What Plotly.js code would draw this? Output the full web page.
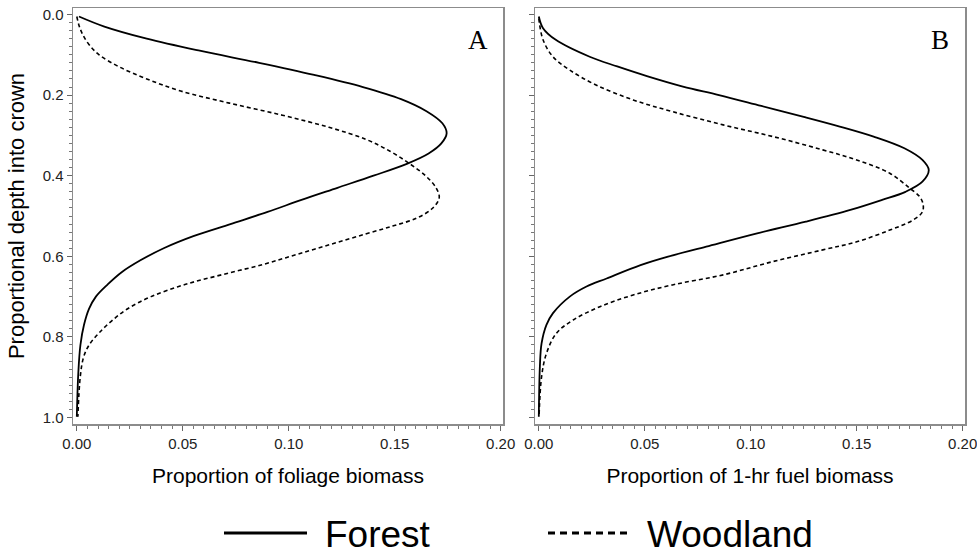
<!DOCTYPE html>
<html>
<head>
<meta charset="utf-8">
<script src="https://cdn.plot.ly/plotly-3.0.1.min.js"></script>
<style>
  html, body { margin: 0; padding: 0; background: #fff; }
  #chart { width: 977px; height: 557px; }
</style>
</head>
<body>
<div id="chart"></div>
<script>
// Vertical distribution of crown biomass (depth 0 = crown top, 1 = crown base)

// Panel A: foliage biomass
const forestFoliageDepth = [0.005, 0.030, 0.060, 0.090, 0.120, 0.150, 0.180, 0.210, 0.240, 0.270, 0.295, 0.320, 0.345, 0.370, 0.400, 0.430, 0.460, 0.490, 0.520, 0.550, 0.580, 0.610, 0.640, 0.670, 0.700, 0.730, 0.770, 0.820, 0.890, 0.998];
const forestFoliage      = [0.001, 0.013, 0.033, 0.058, 0.086, 0.112, 0.135, 0.153, 0.165, 0.1725, 0.1745, 0.172, 0.166, 0.156, 0.140, 0.123, 0.106, 0.090, 0.0725, 0.055, 0.041, 0.030, 0.021, 0.0145, 0.009, 0.0058, 0.0034, 0.0017, 0.0007, 0.0];

const woodlandFoliageDepth = [0.005, 0.030, 0.050, 0.075, 0.100, 0.130, 0.160, 0.190, 0.220, 0.250, 0.280, 0.310, 0.340, 0.370, 0.400, 0.430, 0.455, 0.480, 0.505, 0.525, 0.545, 0.570, 0.595, 0.620, 0.645, 0.670, 0.700, 0.730, 0.760, 0.790, 0.820, 0.850, 0.900, 0.998];
const woodlandFoliage      = [0.0, 0.0012, 0.0028, 0.0058, 0.0105, 0.020, 0.033, 0.049, 0.072, 0.097, 0.119, 0.1365, 0.148, 0.157, 0.1645, 0.1695, 0.171, 0.168, 0.1605, 0.149, 0.136, 0.120, 0.104, 0.088, 0.069, 0.051, 0.035, 0.024, 0.0165, 0.0105, 0.0058, 0.0032, 0.0016, 0.0005];

// Panel B: 1-hr fuel biomass
const forestFuelDepth = [0.005, 0.034, 0.063, 0.105, 0.129, 0.153, 0.179, 0.200, 0.227, 0.254, 0.278, 0.303, 0.332, 0.361, 0.386, 0.415, 0.440, 0.460, 0.485, 0.514, 0.543, 0.576, 0.601, 0.622, 0.655, 0.675, 0.700, 0.741, 0.770, 0.816, 0.874, 0.998];
const forestFuel      = [0.0, 0.002, 0.008, 0.024, 0.037, 0.051, 0.068, 0.085, 0.105, 0.125, 0.142, 0.158, 0.1725, 0.181, 0.184, 0.181, 0.173, 0.162, 0.147, 0.126, 0.103, 0.079, 0.061, 0.048, 0.032, 0.0225, 0.0146, 0.0067, 0.0036, 0.0013, 0.0005, 0.0];

const woodlandFuelDepth = [0.010, 0.063, 0.105, 0.138, 0.175, 0.212, 0.241, 0.274, 0.303, 0.336, 0.361, 0.394, 0.431, 0.452, 0.470, 0.490, 0.510, 0.535, 0.564, 0.584, 0.613, 0.646, 0.671, 0.696, 0.725, 0.758, 0.791, 0.841, 0.899, 0.998];
const woodlandFuel      = [0.0, 0.002, 0.0067, 0.0146, 0.027, 0.0445, 0.063, 0.087, 0.1105, 0.134, 0.150, 0.1656, 0.175, 0.1797, 0.1813, 0.181, 0.1766, 0.1656, 0.150, 0.134, 0.1105, 0.087, 0.063, 0.0445, 0.0288, 0.0162, 0.0083, 0.0036, 0.0013, 0.0001];

const xTicks = [0.00, 0.05, 0.10, 0.15, 0.20];
const yTicks = [0.0, 0.2, 0.4, 0.6, 0.8, 1.0];
const xTitleA = 'Proportion of foliage biomass';
const xTitleB = 'Proportion of 1-hr fuel biomass';
const yTitle = 'Proportional depth into crown';
const panelLabels = ['A', 'B'];
const seriesNames = ['Forest', 'Woodland'];

const FONT = 'Arial, "Liberation Sans", Helvetica, sans-serif';
const solid = { color: '#000', width: 1.8, shape: 'spline', smoothing: 1.0 };
const dashed = { color: '#000', width: 1.6, dash: '4px,3px', shape: 'spline', smoothing: 1.0 };

const traces = [
  { x: forestFoliage, y: forestFoliageDepth, xaxis: 'x', yaxis: 'y', mode: 'lines', line: solid, name: seriesNames[0] },
  { x: woodlandFoliage, y: woodlandFoliageDepth, xaxis: 'x', yaxis: 'y', mode: 'lines', line: dashed, name: seriesNames[1] },
  { x: forestFuel, y: forestFuelDepth, xaxis: 'x2', yaxis: 'y2', mode: 'lines', line: solid, name: seriesNames[0] },
  { x: woodlandFuel, y: woodlandFuelDepth, xaxis: 'x2', yaxis: 'y2', mode: 'lines', line: dashed, name: seriesNames[1] }
];

const W = 977, H = 557;
const M = { l: 73, r: 12, t: 8, b: 133 };
const plotW = W - M.l - M.r, plotH = H - M.t - M.b;
const px = v => (v - M.l) / plotW;          // pixel x -> paper x
const py = v => (H - M.b - v) / plotH;      // pixel y -> paper y

function xAxis(domain, anchor, title) {
  return {
    domain: domain, anchor: anchor,
    range: [-0.0018, 0.2011],
    tickvals: xTicks, tickformat: '.2f',
    ticklabeloverflow: 'allow',
    ticks: 'outside', ticklen: 5, tickwidth: 1, tickcolor: '#666',
    minor: { dtick: 0.005, ticks: 'outside', ticklen: 3, tickwidth: 1, tickcolor: '#777', showgrid: false },
    showline: true, mirror: true, linecolor: '#8c8c8c', linewidth: 1.5,
    showgrid: false, zeroline: false,
    tickfont: { family: FONT, size: 15, color: '#222' },
    title: { text: title, font: { family: FONT, size: 21, color: '#000' }, standoff: 18 }
  };
}
function yAxis(anchor, labels, title) {
  return {
    anchor: anchor,
    range: [1.016, -0.016],
    tickvals: yTicks, tickformat: '.1f', showticklabels: labels,
    ticks: 'outside', ticklen: 5, tickwidth: 1, tickcolor: '#666',
    minor: { dtick: 0.02, ticks: 'outside', ticklen: 3, tickwidth: 1, tickcolor: '#777', showgrid: false },
    showline: true, mirror: true, linecolor: '#8c8c8c', linewidth: 1.5,
    showgrid: false, zeroline: false,
    tickfont: { family: FONT, size: 15, color: '#222' },
    title: title ? { text: title, font: { family: FONT, size: 22, color: '#000' }, standoff: 12 } : undefined
  };
}

const domA = [0, px(503)], domB = [px(535), 1];

// Legend drawn below the panels
const legendY = py(533);
const shapes = [
  { type: 'line', xref: 'paper', yref: 'paper', x0: px(224), x1: px(307), y0: legendY, y1: legendY, line: { color: '#000', width: 3 } },
  { type: 'line', xref: 'paper', yref: 'paper', x0: px(548), x1: px(630), y0: legendY, y1: legendY, line: { color: '#000', width: 3, dash: '7px,5px' } }
];

const letterFont = { family: '"Liberation Serif", "DejaVu Serif", serif', size: 27, color: '#000' };
const legendFont = { family: FONT, size: 37, color: '#000' };
const annotations = [
  { xref: 'x domain', yref: 'y domain', x: 0.943, y: 0.924, xanchor: 'center', yanchor: 'middle',
    text: panelLabels[0], showarrow: false, font: letterFont },
  { xref: 'x2 domain', yref: 'y2 domain', x: 0.943, y: 0.924, xanchor: 'center', yanchor: 'middle',
    text: panelLabels[1], showarrow: false, font: letterFont },
  { xref: 'paper', yref: 'paper', x: px(324), y: py(556), xanchor: 'left', yanchor: 'bottom', borderpad: 0,
    text: seriesNames[0], showarrow: false, font: legendFont },
  { xref: 'paper', yref: 'paper', x: px(646), y: py(556), xanchor: 'left', yanchor: 'bottom', borderpad: 0,
    text: seriesNames[1], showarrow: false, font: legendFont }
];

const layout = {
  width: W, height: H,
  margin: M,
  paper_bgcolor: '#fff', plot_bgcolor: '#fff',
  showlegend: false,
  xaxis: xAxis(domA, 'y', xTitleA),
  xaxis2: xAxis(domB, 'y2', xTitleB),
  yaxis: yAxis('x', true, yTitle),
  yaxis2: yAxis('x2', false, null),
  shapes: shapes,
  annotations: annotations
};

Plotly.newPlot('chart', traces, layout, { staticPlot: true, displayModeBar: false });
</script>
</body>
</html>
